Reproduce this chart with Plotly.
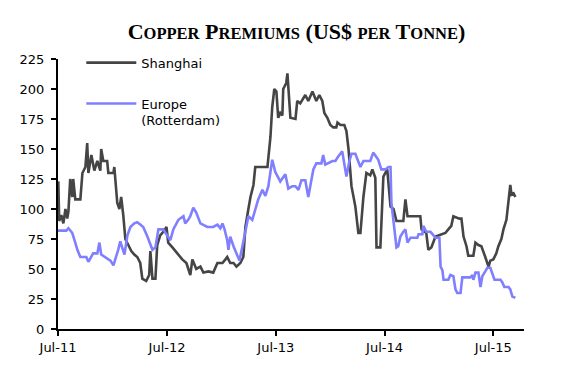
import plotly.graph_objects as go

# ---- data ----
shanghai_dates = [
    "2011-07-01", "2011-07-02", "2011-07-05", "2011-07-12", "2011-07-19", "2011-07-26",
    "2011-08-01", "2011-08-05", "2011-08-11", "2011-08-18", "2011-08-21", "2011-08-28",
    "2011-09-14", "2011-09-21", "2011-10-01", "2011-10-07", "2011-10-11", "2011-10-21",
    "2011-10-31", "2011-11-10", "2011-11-20", "2011-11-23", "2011-11-30", "2011-12-13",
    "2011-12-17", "2012-01-03", "2012-01-06", "2012-01-16", "2012-01-23", "2012-01-29",
    "2012-02-05", "2012-02-12", "2012-02-22", "2012-03-03", "2012-03-13", "2012-03-23",
    "2012-04-02", "2012-04-09", "2012-04-22", "2012-05-02", "2012-05-06", "2012-05-13",
    "2012-05-23", "2012-05-29", "2012-06-08", "2012-06-22", "2012-06-29", "2012-07-05",
    "2012-07-19", "2012-08-04", "2012-08-21", "2012-09-04", "2012-09-17", "2012-09-24",
    "2012-10-07", "2012-10-21", "2012-10-31", "2012-11-17", "2012-12-03", "2012-12-17",
    "2013-01-03", "2013-01-13", "2013-01-19", "2013-01-29", "2013-02-09", "2013-02-19",
    "2013-03-04", "2013-03-14", "2013-03-21", "2013-03-31", "2013-04-07", "2013-04-17",
    "2013-04-23", "2013-06-03", "2013-06-13", "2013-06-19", "2013-06-26", "2013-07-03",
    "2013-07-09", "2013-07-16", "2013-07-23", "2013-07-26", "2013-08-05", "2013-08-09",
    "2013-08-12", "2013-08-19", "2013-09-05", "2013-09-11", "2013-09-21", "2013-10-08",
    "2013-10-18", "2013-11-01", "2013-11-14", "2013-11-24", "2013-12-04", "2013-12-11",
    "2013-12-21", "2013-12-31", "2014-01-10", "2014-01-20", "2014-01-24", "2014-02-03",
    "2014-02-16", "2014-02-23", "2014-03-02", "2014-03-12", "2014-03-25", "2014-04-04",
    "2014-04-11", "2014-04-21", "2014-05-01", "2014-05-14", "2014-05-21", "2014-05-31",
    "2014-06-04", "2014-06-17", "2014-06-27", "2014-07-10", "2014-07-21", "2014-07-31",
    "2014-08-06", "2014-08-10", "2014-09-02", "2014-09-09", "2014-09-16", "2014-09-26",
    "2014-10-29", "2014-11-02", "2014-11-18", "2014-11-25", "2014-12-05", "2014-12-19",
    "2015-01-08", "2015-01-21", "2015-01-31", "2015-02-10", "2015-02-17", "2015-03-09",
    "2015-03-16", "2015-03-23", "2015-04-02", "2015-04-08", "2015-04-25", "2015-05-02",
    "2015-05-12", "2015-05-22", "2015-06-04", "2015-06-15", "2015-06-21", "2015-07-01",
    "2015-07-11", "2015-07-18", "2015-07-28", "2015-08-04", "2015-08-14", "2015-08-21",
    "2015-08-27", "2015-08-31", "2015-09-07", "2015-09-13",
]
shanghai_values = [
    100, 123, 90, 95, 88, 100,
    92, 98, 125, 110, 125, 108,
    108, 130, 135, 155, 130, 145,
    132, 140, 132, 150, 140, 140,
    130, 130, 135, 105, 100, 110,
    95, 75, 70, 65, 62, 60,
    55, 42, 40, 45, 65, 42,
    42, 70, 78, 82, 85, 72,
    68, 63, 58, 55, 45, 58,
    50, 52, 47, 48, 47, 55,
    55, 58, 60, 55, 55, 52,
    55, 60, 85, 100, 110, 120,
    135, 135, 160, 185, 200, 198,
    176, 180, 178, 200, 205, 213,
    200, 176, 175, 190, 188, 195,
    190, 198, 190, 195, 190, 180,
    176, 170, 168, 168, 172, 170,
    170, 165, 150, 119, 102, 80,
    80, 110, 130, 128, 133, 126,
    68, 68, 127, 133, 102, 100,
    94, 90, 90, 108, 94, 94,
    94, 83, 80, 66, 68, 77,
    79, 80, 83, 86, 94, 92,
    92, 77, 69, 61, 61, 72,
    70, 69, 60, 52, 57, 58,
    63, 69, 75, 83, 91, 105,
    120, 112, 113, 110,
]

europe_dates = [
    "2011-07-01", "2011-07-29", "2011-08-05", "2011-08-18", "2011-08-28", "2011-09-04",
    "2011-09-14", "2011-10-04", "2011-10-11", "2011-10-27", "2011-11-10", "2011-11-17",
    "2011-11-23", "2011-12-07", "2011-12-24", "2012-01-03", "2012-01-13", "2012-01-19",
    "2012-01-26", "2012-02-02", "2012-02-09", "2012-02-19", "2012-02-29", "2012-03-13",
    "2012-03-23", "2012-04-02", "2012-04-12", "2012-04-26", "2012-05-06", "2012-05-13",
    "2012-05-23", "2012-06-02", "2012-06-18", "2012-07-02", "2012-07-12", "2012-07-22",
    "2012-08-08", "2012-08-25", "2012-08-31", "2012-09-10", "2012-09-17", "2012-09-27",
    "2012-10-07", "2012-10-21", "2012-11-13", "2012-12-03", "2012-12-17", "2012-12-27",
    "2013-01-03", "2013-01-10", "2013-01-19", "2013-01-23", "2013-01-29", "2013-02-09",
    "2013-02-22", "2013-03-01", "2013-03-11", "2013-03-21", "2013-03-31", "2013-04-13",
    "2013-04-23", "2013-05-03", "2013-05-17", "2013-05-27", "2013-06-06", "2013-06-19",
    "2013-06-29", "2013-07-16", "2013-08-02", "2013-08-12", "2013-08-25", "2013-09-05",
    "2013-09-15", "2013-09-25", "2013-10-08", "2013-10-18", "2013-11-04", "2013-11-14",
    "2013-12-01", "2013-12-07", "2013-12-14", "2013-12-24", "2014-01-07", "2014-01-17",
    "2014-01-27", "2014-02-09", "2014-02-23", "2014-03-05", "2014-03-12", "2014-03-25",
    "2014-04-11", "2014-04-21", "2014-05-14", "2014-05-24", "2014-06-10", "2014-06-20",
    "2014-07-04", "2014-07-14", "2014-07-21", "2014-07-24", "2014-07-31", "2014-08-10",
    "2014-08-16", "2014-08-23", "2014-09-02", "2014-09-09", "2014-09-16", "2014-09-26",
    "2014-10-19", "2014-10-23", "2014-11-05", "2014-11-08", "2014-11-18", "2014-12-02",
    "2014-12-09", "2014-12-19", "2015-01-01", "2015-01-05", "2015-01-11", "2015-01-15",
    "2015-01-31", "2015-02-07", "2015-02-17", "2015-02-24", "2015-03-02", "2015-03-13",
    "2015-03-19", "2015-04-15", "2015-04-22", "2015-04-25", "2015-05-02", "2015-05-12",
    "2015-05-19", "2015-05-25", "2015-06-04", "2015-06-11", "2015-06-21", "2015-06-28",
    "2015-07-05", "2015-07-25", "2015-07-31", "2015-08-07", "2015-08-21", "2015-08-27",
    "2015-09-03", "2015-09-13",
]
europe_values = [
    82, 82, 84, 80, 72, 66,
    60, 60, 56, 63, 63, 72,
    62, 60, 57, 53, 60, 66,
    73, 68, 62, 78, 85, 88,
    89, 87, 85, 77, 70, 66,
    68, 83, 83, 78, 74, 83,
    91, 94, 88, 91, 94, 101,
    97, 88, 85, 85, 87, 84,
    88, 83, 74, 66, 77, 69,
    60, 57, 69, 83, 94, 91,
    99, 108, 116, 111, 119, 141,
    131, 123, 129, 117, 119, 119,
    116, 124, 124, 110, 133, 138,
    138, 145, 137, 138, 140, 140,
    144, 148, 127, 140, 146, 146,
    135, 140, 140, 147, 141, 133,
    133, 135, 135, 105, 90, 68,
    69, 77, 81, 83, 72, 76,
    76, 79, 79, 86, 81, 81,
    79, 76, 76, 52, 49, 41,
    41, 45, 44, 33, 30, 30,
    43, 43, 45, 41, 47, 47,
    35, 44, 48, 51, 51, 45,
    41, 41, 39, 35, 35, 33,
    27, 26,
]

series_names = ["Shanghai", "Europe<br>(Rotterdam)"]
series_colors = ["#454545", "#7f7fff"]
y_ticks = [0, 25, 50, 75, 100, 125, 150, 175, 200, 225]
x_range = ["2011-07-01", "2015-10-12"]

TICK_FONT = dict(family="DejaVu Sans", size=13, color="#000000")

fig = go.Figure()
fig.add_trace(go.Scatter(
    x=shanghai_dates, y=shanghai_values, name=series_names[0], mode="lines",
    line=dict(color=series_colors[0], width=2.6), legendgroup="a",
))
fig.add_trace(go.Scatter(
    x=europe_dates, y=europe_values, name=series_names[1], mode="lines",
    line=dict(color=series_colors[1], width=2.6), legendgroup="b",
))

axis_common = dict(
    showgrid=False, zeroline=False, showline=True, linecolor="#000000", linewidth=2,
    ticks="outside", ticklen=5, tickwidth=2, tickcolor="#000000", tickfont=TICK_FONT,
)

title_text = (
    "C<span style='font-size:16.5px'>OPPER</span> "
    "P<span style='font-size:16.5px'>REMIUMS</span> "
    "(US$ <span style='font-size:16.5px'>PER</span> "
    "T<span style='font-size:16.5px'>ONNE</span>)"
)

fig.update_layout(
    width=578, height=370,
    margin=dict(l=58, r=54, t=59, b=41),
    paper_bgcolor="#ffffff", plot_bgcolor="#ffffff",
    title=dict(
        text="<b>" + title_text + "</b>",
        font=dict(family="Liberation Serif", size=22, color="#000000"),
        x=296.5 / 578, xref="container", xanchor="center",
        y=1 - 31 / 370, yref="container", yanchor="middle",
    ),
    showlegend=True,
    legend=dict(
        x=0.05, y=1.042, xanchor="left", yanchor="top",
        font=dict(family="DejaVu Sans", size=13, color="#000000"),
        bgcolor="rgba(0,0,0,0)", itemwidth=50, valign="top",
        tracegroupgap=21,
    ),
    xaxis=dict(
        axis_common, type="date", range=x_range,
        tick0="2011-07-01", dtick="M12", tickformat="%b-%y",
    ),
    yaxis=dict(
        axis_common, range=[0, 225], tickvals=y_ticks, ticklabelstandoff=4,
    ),
    yaxis2=dict(
        axis_common, range=[0, 225], tickvals=y_ticks, overlaying="y",
        side="right", anchor="x", ticklabelstandoff=4,
    ),
)

fig.write_html(
    "out.html",
    config={"displayModeBar": False},
    post_script="document.body.style.margin='0';",
)
